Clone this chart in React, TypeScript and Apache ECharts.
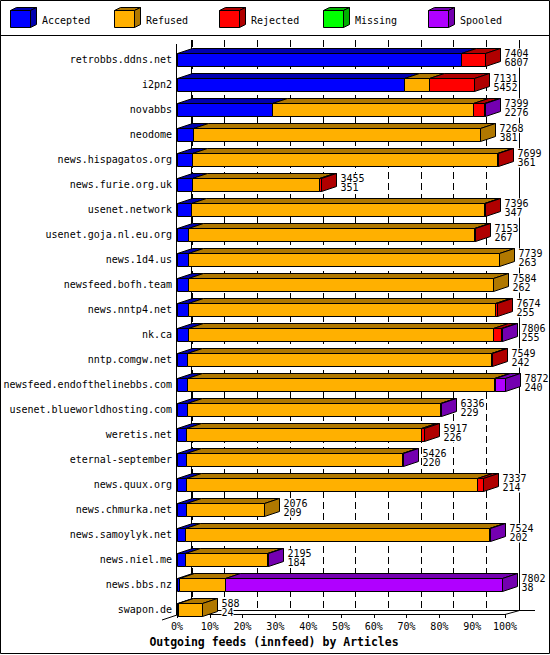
import React, { useEffect, useRef } from 'react';
import * as echarts from 'echarts';

const hosts = [
  'retrobbs.ddns.net', 'i2pn2', 'novabbs', 'neodome', 'news.hispagatos.org',
  'news.furie.org.uk', 'usenet.network', 'usenet.goja.nl.eu.org', 'news.1d4.us',
  'newsfeed.bofh.team', 'news.nntp4.net', 'nk.ca', 'nntp.comgw.net',
  'newsfeed.endofthelinebbs.com', 'usenet.blueworldhosting.com', 'weretis.net',
  'eternal-september', 'news.quux.org', 'news.chmurka.net', 'news.samoylyk.net',
  'news.niel.me', 'news.bbs.nz', 'swapon.de',
];
const offered = [7404, 7131, 7399, 7268, 7699, 3455, 7396, 7153, 7739, 7584, 7674, 7806, 7549, 7872, 6336, 5917, 5426, 7337, 2076, 7524, 2195, 7802, 588];
const accepted = [6807, 5452, 2276, 381, 361, 351, 347, 267, 263, 262, 255, 255, 242, 240, 229, 226, 220, 214, 209, 202, 184, 38, 24];
const refused = [0, 604, 4836, 6887, 7313, 3064, 7019, 6861, 7476, 7322, 7379, 7321, 7282, 7362, 6083, 5621, 5174, 6993, 1867, 7286, 1971, 1114, 564];
const rejected = [597, 1075, 257, 0, 25, 40, 30, 25, 0, 0, 40, 210, 25, 40, 0, 70, 0, 130, 0, 0, 0, 0, 0];
const missing = [0, 0, 0, 0, 0, 0, 0, 0, 0, 0, 0, 0, 0, 0, 0, 0, 0, 0, 0, 0, 0, 0, 0];
const spooled = [0, 0, 30, 0, 0, 0, 0, 0, 0, 0, 0, 20, 0, 230, 24, 0, 32, 0, 0, 36, 40, 6650, 0];

const seriesNames = ['Accepted', 'Refused', 'Rejected', 'Missing', 'Spooled'];
const FRONT = ['#0000ff', '#ffb000', '#ff0000', '#00ff00', '#b000ff'];
const DARK = ['#0000b0', '#b07800', '#b00000', '#00b000', '#7400b0'];
const MONO = '"DejaVu Sans Mono", "Liberation Mono", monospace';
const title = 'Outgoing feeds (innfeed) by Articles';

const DX = 15;
const DY = 5;
const BAR_H = 13;

export default function App() {
  const ref = useRef<HTMLDivElement>(null);

  useEffect(() => {
    if (!ref.current) return;
    const chart = echarts.init(ref.current, null, { renderer: 'svg' });
    const maxOffered = Math.max(...offered);
    const pct = (v: number) => (v / maxOffered) * 100;
    const rows = hosts.map((h, i) => [
      i,
      pct(accepted[i]),
      pct(refused[i]),
      pct(rejected[i]),
      pct(missing[i]),
      pct(spooled[i]),
      offered[i],
      accepted[i],
    ]);

    const numStyle = (text: string) => ({
      text,
      fill: '#000',
      fontSize: 10,
      fontFamily: MONO,
      lineHeight: 9.5,
      align: 'left',
      verticalAlign: 'middle',
      backgroundColor: '#fff',
    });

    const renderItem = (params: any, api: any) => {
      const i = api.value(0);
      const base = api.coord([0, i]);
      const cy = base[1];
      const top = Math.round(cy - BAR_H / 2) + 0.5;
      const bot = top + BAR_H;
      const fronts: any[] = [];
      const tops: any[] = [];
      let cum = 0;
      let lastK = 0;
      let x1 = Math.round(base[0]) + 0.5;
      let endX = x1;
      for (let k = 0; k < 5; k++) {
        const v = api.value(k + 1);
        if (!(v > 0)) continue;
        cum += v;
        const x2 = Math.round(api.coord([cum, i])[0]) + 0.5;
        fronts.push({
          type: 'rect',
          shape: { x: x1, y: top, width: Math.max(x2 - x1, 0), height: BAR_H },
          style: { fill: FRONT[k], stroke: '#000', lineWidth: 1 },
        });
        tops.push({
          type: 'polygon',
          shape: { points: [[x1, top], [x2, top], [x2 + DX, top - DY], [x1 + DX, top - DY]] },
          style: { fill: DARK[k], stroke: '#000', lineWidth: 1 },
        });
        lastK = k;
        x1 = x2;
        endX = x2;
      }
      const side = {
        type: 'polygon',
        shape: { points: [[endX, top], [endX + DX, top - DY], [endX + DX, bot - DY], [endX, bot]] },
        style: { fill: DARK[lastK], stroke: '#000', lineWidth: 1 },
      };
      const tx = endX + DX + 4;
      const label1 = { type: 'text', x: tx, y: cy - 6.3, style: numStyle(String(api.value(6))) };
      const label2 = { type: 'text', x: tx, y: cy + 3.3, style: numStyle(String(api.value(7))) };
      return { type: 'group', children: [...fronts, ...tops, side, label1, label2] };
    };

    const legendEls: any[] = [];
    const legendX = [10, 114, 219, 323, 428];
    seriesNames.forEach((name, k) => {
      const x = legendX[k] + 0.5;
      const y = 10.5;
      const w = 20;
      const h = 17;
      legendEls.push({
        type: 'rect', z: 10,
        shape: { x, y, width: w, height: h },
        style: { fill: FRONT[k], stroke: '#000', lineWidth: 1 },
      });
      legendEls.push({
        type: 'polygon', z: 10,
        shape: { points: [[x, y], [x + w, y], [x + w + 6, y - 3], [x + 6, y - 3]] },
        style: { fill: DARK[k], stroke: '#000', lineWidth: 1 },
      });
      legendEls.push({
        type: 'polygon', z: 10,
        shape: { points: [[x + w, y], [x + w + 6, y - 3], [x + w + 6, y + h - 3], [x + w, y + h]] },
        style: { fill: DARK[k], stroke: '#000', lineWidth: 1 },
      });
      legendEls.push({
        type: 'text', z: 10,
        x: legendX[k] + 32, y: 20,
        style: { text: name, fill: '#000', fontSize: 10, fontFamily: MONO, align: 'left', verticalAlign: 'middle' },
      });
    });

    const lineStyle = { stroke: '#000', lineWidth: 1 };
    const graphics: any[] = [
      { type: 'rect', z: 10, shape: { x: 0.5, y: 0.5, width: 549, height: 653 }, style: { fill: 'none', stroke: '#000', lineWidth: 1 } },
      { type: 'line', z: 10, shape: { x1: 0, y1: 35.5, x2: 550, y2: 35.5 }, style: lineStyle },
      // front y axis
      { type: 'line', z: 10, shape: { x1: 176.5, y1: 44, x2: 176.5, y2: 615 }, style: lineStyle },
      { type: 'line', z: 10, shape: { x1: 162, y1: 620, x2: 177, y2: 615 }, style: lineStyle },
      // back wall
      { type: 'line', z: 0, shape: { x1: 191.5, y1: 40, x2: 191.5, y2: 611 }, style: lineStyle },
      { type: 'line', z: 0, shape: { x1: 519.5, y1: 40, x2: 519.5, y2: 611 }, style: lineStyle },
      { type: 'line', z: 0, shape: { x1: 192, y1: 610.5, x2: 535, y2: 610.5 }, style: lineStyle },
      { type: 'line', z: 0, shape: { x1: 505, y1: 614.5, x2: 519.5, y2: 610.5 }, style: lineStyle },
      {
        type: 'text', z: 10, x: 274, y: 642,
        style: { text: title, fill: '#000', fontSize: 11.5, fontWeight: 'bold', fontFamily: MONO, align: 'center', verticalAlign: 'middle' },
      },
      ...legendEls,
    ];

    chart.setOption({
      animation: false,
      backgroundColor: '#fff',
      grid: [
        { left: 177, width: 328, top: 47, height: 575 },
        { left: 192, width: 327, top: 40, height: 571 },
        { left: 177, width: 328, top: 47, height: 567 },
      ],
      xAxis: [
        { type: 'value', gridIndex: 0, min: 0, max: 100, interval: 10, show: false },
        {
          type: 'value', gridIndex: 1, min: 0, max: 100, interval: 10,
          axisLine: { show: false }, axisTick: { show: false }, axisLabel: { show: false },
          splitLine: { show: true, lineStyle: { color: '#000', width: 1, type: [7, 4] } },
        },
        {
          type: 'value', gridIndex: 2, min: 0, max: 100, interval: 10,
          axisLine: { show: true, lineStyle: { color: '#000', width: 1 } },
          axisTick: { show: true, length: 4, lineStyle: { color: '#000' } },
          axisLabel: { show: true, formatter: '{value}%', color: '#000', fontSize: 10, fontFamily: MONO, margin: 7 },
          splitLine: { show: false },
        },
      ],
      yAxis: [
        {
          type: 'category', gridIndex: 0, data: hosts, inverse: true,
          axisLine: { show: false }, axisTick: { show: false },
          axisLabel: { color: '#000', fontSize: 10, fontFamily: MONO, margin: 5 },
          splitLine: { show: false },
        },
        { type: 'value', gridIndex: 1, show: false },
        { type: 'value', gridIndex: 2, show: false },
      ],
      graphic: graphics,
      series: [
        {
          type: 'custom',
          name: 'Outgoing feeds',
          coordinateSystem: 'cartesian2d',
          xAxisIndex: 0,
          yAxisIndex: 0,
          encode: { x: 1, y: 0 },
          clip: false,
          z: 3,
          renderItem,
          data: rows,
        },
      ],
    });
    return () => chart.dispose();
  }, []);

  return (
    <div
      ref={ref}
      style={{ position: 'absolute', left: 0, top: 0, width: 550, height: 655, background: '#fff' }}
    />
  );
}
